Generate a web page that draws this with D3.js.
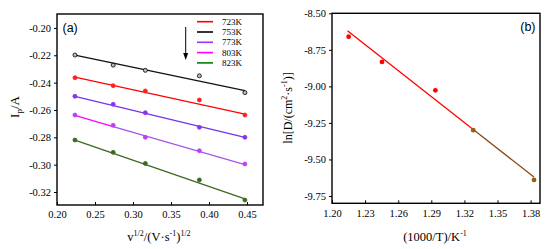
<!DOCTYPE html>
<html><head><meta charset="utf-8">
<script src="https://cdn.jsdelivr.net/npm/d3@7/dist/d3.min.js"></script>
<style>body{margin:0;background:#fff}svg{display:block}</style>
</head><body>
<svg id="c" width="550" height="249"></svg>
<script>
// ---- Panel (a) data ----
const scanX = [0.2236, 0.2739, 0.3162, 0.3873, 0.4472];
const seriesNames = ["723K", "753K", "773K", "803K", "823K"];
const legendColors = ["#ff0000", "#000000", "#9933ff", "#ff00ff", "#008000"];
const lineColors = ["#ff0000", "#111111", "#7733ee", "#a855e8", "#3a6a20"];
const pointColors = ["#ff2020", "#333333", "#8833ee", "#c040f0", "#3a6a20"];
const ip723 = [-0.2364, -0.2422, -0.2461, -0.2527, -0.2637];
const ip753 = [-0.2198, -0.2272, -0.2310, -0.2350, -0.2473];
const ip773 = [-0.2500, -0.2558, -0.2620, -0.2727, -0.2800];
const ip803 = [-0.2637, -0.2712, -0.2800, -0.2898, -0.2995];
const ip823 = [-0.2820, -0.2910, -0.2991, -0.3112, -0.3259];
const fitStartA = [-0.2360, -0.2198, -0.2500, -0.2640, -0.2820];
const fitEndA = [-0.2630, -0.2459, -0.2800, -0.3000, -0.3250];
const xTicksA = [0.20, 0.25, 0.30, 0.35, 0.40, 0.45];
const yTicksA = [-0.20, -0.22, -0.24, -0.26, -0.28, -0.30, -0.32];

// ---- Panel (b) data ----
const invT = [1.2151, 1.2453, 1.2937, 1.3280, 1.3831];
const lnD = [-8.66, -8.833, -9.027, -9.30, -9.64];
const lnDColors = ["#ff0000", "#ff0000", "#ff0000", "#9a5a1a", "#9a5a1a"];
const fitXB = [1.214, 1.326, 1.383];
const fitYB = [-8.62, -9.283, -9.62];
const fitColB = ["#ff0000", "#8b4513"];
const xTicksB = [1.20, 1.23, 1.26, 1.29, 1.32, 1.35, 1.38];
const yTicksB = [-8.50, -8.75, -9.00, -9.25, -9.50, -9.75];

const allIp = [ip723, ip753, ip773, ip803, ip823];
const svg = d3.select("#c");
const serif = "'Liberation Serif', 'Times New Roman', serif";
const sans = "'Liberation Sans', Arial, sans-serif";
const fmt2 = v => d3.format(".2f")(v).replace("−", "-");

function frame(g, x, y, xTicks, yTicks) {
  const [x0, x1] = x.range(), [y1, y0] = y.range();
  g.append("g").attr("transform", `translate(0,${y1})`)
    .call(d3.axisBottom(x).tickValues(xTicks).tickFormat(fmt2).tickSizeInner(-3).tickSizeOuter(0).tickPadding(6))
    .call(a => { a.attr("font-family", null).attr("font-size", null); a.select(".domain").remove(); a.selectAll("text").style("font-family", serif).style("font-size", "10.5px").attr("fill", "#000"); a.selectAll("line").attr("stroke-width", 1); });
  g.append("g").attr("transform", `translate(${x0},0)`)
    .call(d3.axisLeft(y).tickValues(yTicks).tickFormat(fmt2).tickSizeInner(3).tickSizeOuter(0).tickPadding(3))
    .call(a => { a.attr("font-family", null).attr("font-size", null); a.select(".domain").remove(); a.selectAll("text").style("font-family", serif).style("font-size", "10.5px").attr("fill", "#000"); a.selectAll("line").attr("stroke-width", 1); });
  g.append("rect").attr("x", x0).attr("y", y0).attr("width", x1 - x0).attr("height", y1 - y0)
    .attr("fill", "none").attr("stroke", "#000").attr("stroke-width", 1.4);
}

// ---------- Panel (a) ----------
const xa = d3.scaleLinear().domain([0.2, 0.471]).range([57, 263]);
const ya = d3.scaleLinear().domain([-0.3295, -0.1898]).range([205, 14]);
const ga = svg.append("g");

seriesNames.forEach((n, i) => {
  const vals = allIp[i];
  if (n === "803K") {
    const xm = scanX[1];
    const ym = fitStartA[i] + (fitEndA[i] - fitStartA[i]) * (xm - scanX[0]) / (scanX[4] - scanX[0]);
    ga.append("line").attr("x1", xa(scanX[0])).attr("y1", ya(fitStartA[i])).attr("x2", xa(xm)).attr("y2", ya(ym))
      .attr("stroke", "#ff00ff").attr("stroke-width", 1.3);
    ga.append("line").attr("x1", xa(xm)).attr("y1", ya(ym)).attr("x2", xa(scanX[4])).attr("y2", ya(fitEndA[i]))
      .attr("stroke", lineColors[i]).attr("stroke-width", 1.3);
  } else {
    ga.append("line").attr("x1", xa(scanX[0])).attr("y1", ya(fitStartA[i])).attr("x2", xa(scanX[4])).attr("y2", ya(fitEndA[i]))
      .attr("stroke", lineColors[i]).attr("stroke-width", 1.3);
  }
  ga.selectAll(null).data(vals).join("circle")
    .attr("cx", (d, j) => xa(scanX[j])).attr("cy", d => ya(d)).attr("r", 2)
    .attr("fill", n === "753K" ? "#bbb" : pointColors[i])
    .attr("stroke", n === "753K" ? "#000" : pointColors[i]).attr("stroke-width", 0.8);
});

frame(ga, xa, ya, xTicksA, yTicksA);

// legend
const lg = ga.append("g");
seriesNames.forEach((n, i) => {
  const yy = 21.7 + i * 10.3;
  lg.append("line").attr("x1", 197).attr("x2", 213).attr("y1", yy).attr("y2", yy)
    .attr("stroke", legendColors[i]).attr("stroke-width", 1.6);
  lg.append("text").attr("x", 222).attr("y", yy + 3).text(n)
    .style("font-family", serif).style("font-size", "9px").attr("fill", "#000");
});
// arrow
ga.append("line").attr("x1", 185.7).attr("x2", 185.7).attr("y1", 27).attr("y2", 55)
  .attr("stroke", "#000").attr("stroke-width", 1);
ga.append("path").attr("d", "M183.2,53 L188.2,53 L185.7,60 Z").attr("fill", "#000");

ga.append("text").attr("x", 62.5).attr("y", 31.5).text("(a)")
  .style("font-family", sans).style("font-size", "12.5px").attr("fill", "#000");

// y title (a)
const yta = ga.append("text").attr("transform", "translate(19,107) rotate(-90)")
  .attr("text-anchor", "middle").style("font-family", serif).style("font-size", "13px").attr("fill", "#000");
yta.append("tspan").text("I");
yta.append("tspan").text("p").style("font-size", "9px").attr("dy", 3);
yta.append("tspan").text("/A").attr("dy", -3);

// x title (a)
const xta = ga.append("text").attr("x", 159).attr("y", 241)
  .attr("text-anchor", "middle").style("font-family", serif).style("font-size", "12.5px").attr("fill", "#000");
xta.append("tspan").text("v");
xta.append("tspan").text("1/2").style("font-size", "8px").attr("dy", -5);
xta.append("tspan").text("/(V·s").attr("dy", 5);
xta.append("tspan").text("-1").style("font-size", "8px").attr("dy", -5);
xta.append("tspan").text(")").attr("dy", 5);
xta.append("tspan").text("1/2").style("font-size", "8px").attr("dy", -5);

// ---------- Panel (b) ----------
const xb = d3.scaleLinear().domain([1.20, 1.3885]).range([332, 540]);
const yb = d3.scaleLinear().domain([-9.80, -8.50]).range([203.3, 13.3]);
const gb = svg.append("g");

for (let k = 0; k < fitXB.length - 1; k++) {
  gb.append("line").attr("x1", xb(fitXB[k])).attr("y1", yb(fitYB[k]))
    .attr("x2", xb(fitXB[k + 1])).attr("y2", yb(fitYB[k + 1]))
    .attr("stroke", fitColB[k]).attr("stroke-width", 1.3);
}
gb.selectAll(null).data(lnD).join("circle")
  .attr("cx", (d, j) => xb(invT[j])).attr("cy", d => yb(d)).attr("r", 2.4)
  .attr("fill", (d, j) => lnDColors[j]);

frame(gb, xb, yb, xTicksB, yTicksB);

gb.append("text").attr("x", 535.5).attr("y", 31).attr("text-anchor", "end").text("(b)")
  .style("font-family", sans).style("font-size", "12.5px").attr("fill", "#000");

const ytb = gb.append("text").attr("transform", "translate(292,108) rotate(-90)")
  .attr("text-anchor", "middle").style("font-family", serif).style("font-size", "12px").attr("fill", "#000");
ytb.append("tspan").text("ln[D/(cm");
ytb.append("tspan").text("2").style("font-size", "8px").attr("dy", -5);
ytb.append("tspan").text("·s").attr("dy", 5);
ytb.append("tspan").text("-1").style("font-size", "8px").attr("dy", -5);
ytb.append("tspan").text(")]").attr("dy", 5);

const xtb = gb.append("text").attr("x", 435).attr("y", 241)
  .attr("text-anchor", "middle").style("font-family", serif).style("font-size", "12.5px").attr("fill", "#000");
xtb.append("tspan").text("(1000/T)/K");
xtb.append("tspan").text("-1").style("font-size", "8px").attr("dy", -5);
</script>
</body></html>
